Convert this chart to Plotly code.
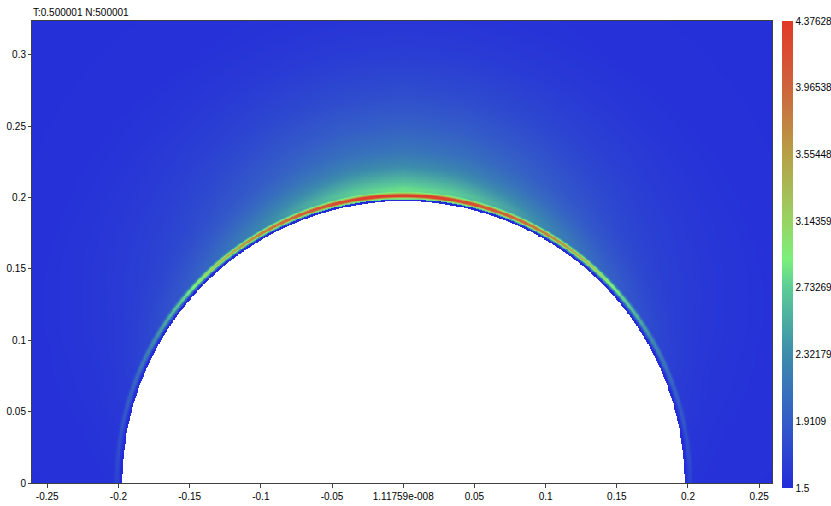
import numpy as np
import plotly.graph_objects as go

# ---------------- data ----------------
title_text = "T:0.500001 N:500001"

# broad halo above the cylinder: excess over background (r in axis units)
r_halo = [0.1986, 0.2060, 0.2100, 0.2160, 0.2220, 0.2320, 0.2500, 0.2700,
          0.3000, 0.3300, 0.4000]
v_halo = [1.28, 1.30, 1.15, 0.95, 0.78, 0.60, 0.42, 0.27, 0.12, 0.04, 0.0]

# narrow peak just outside the wall: excess over halo
r_ring = [0.1990, 0.2000, 0.2005, 0.2017, 0.2024, 0.2032, 0.2040]
v_ring = [0.0, 1.00, 1.55, 1.55, 0.80, 0.25, 0.0]

# angular attenuation (angle from +x axis, symmetric about 90 deg)
theta_deg = [0, 10, 20, 30, 40, 50, 60, 70, 80, 90]
amp_ring = [0.09, 0.15, 0.22, 0.38, 0.58, 0.82, 0.98, 1.00, 1.00, 1.00]
amp_halo = [0.02, 0.04, 0.08, 0.15, 0.25, 0.38, 0.55, 0.75, 0.92, 1.00]

bg_value = 1.53
wall_radius = 0.1972
wall_band = 0.1986
wall_value = 1.50

cb_ticks = [1.5, 1.9109, 2.32179, 2.73269, 3.14359, 3.55448, 3.96538, 4.37628]
cb_ticktext = ["1.5", "1.9109", "2.32179", "2.73269", "3.14359", "3.55448",
               "3.96538", "4.37628"]
x_ticks = [-0.25, -0.2, -0.15, -0.1, -0.05, 0.0, 0.05, 0.1, 0.15, 0.2, 0.25]
x_ticktext = ["-0.25", "-0.2", "-0.15", "-0.1", "-0.05", "1.11759e-008",
              "0.05", "0.1", "0.15", "0.2", "0.25"]
y_ticks = [0, 0.05, 0.1, 0.15, 0.2, 0.25, 0.3]
y_ticktext = ["0", "0.05", "0.1", "0.15", "0.2", "0.25", "0.3"]

x_range = [-0.2607, 0.2590]
y_range = [0.0, 0.3236]

# ---------------- build the field ----------------
step = 0.0006
xs = np.arange(x_range[0], x_range[1] + step, step)
ys = np.arange(y_range[0], y_range[1] + step, step)
X, Y = np.meshgrid(xs, ys)
R = np.hypot(X, Y)
TH = np.degrees(np.arctan2(Y, X))
TH = np.where(TH > 90, 180 - TH, TH)
Ar = np.interp(TH, theta_deg, amp_ring)
Ah = np.interp(TH, theta_deg, amp_halo)
H = np.interp(R, r_halo, v_halo)
G = np.interp(R, r_ring, v_ring)
Z = bg_value + Ar * G + Ah * H
Z = np.where(R < wall_band, wall_value, Z)
Z = np.where(R < wall_radius, np.nan, Z).astype(np.float32)

colorscale = [
    [0.000, "rgb(36,44,218)"],
    [0.143, "rgb(52,92,200)"],
    [0.286, "rgb(60,140,172)"],
    [0.429, "rgb(92,204,150)"],
    [0.490, "rgb(122,240,122)"],
    [0.571, "rgb(152,212,100)"],
    [0.714, "rgb(182,160,70)"],
    [0.857, "rgb(206,100,60)"],
    [1.000, "rgb(226,56,40)"],
]

font_family = "Liberation Sans, Arial, sans-serif"

fig = go.Figure(go.Heatmap(
    x=xs, y=ys, z=Z,
    zmin=cb_ticks[0], zmax=cb_ticks[-1],
    colorscale=colorscale,
    zsmooth=False,
    hoverongaps=False,
    colorbar=dict(
        thickness=11, thicknessmode="pixels",
        len=467, lenmode="pixels",
        x=1.0131, xanchor="left", xpad=0,
        y=1.0, yanchor="top", ypad=0,
        outlinewidth=0,
        tickvals=cb_ticks, ticktext=cb_ticktext,
        ticks="", ticklen=0,
        tickfont=dict(family=font_family, size=10, color="black"),
    ),
))

fig.update_layout(
    width=831, height=506,
    margin=dict(l=32, r=59, t=21, b=23, pad=0, autoexpand=False),
    paper_bgcolor="white",
    plot_bgcolor="white",
    font=dict(family=font_family, size=10, color="black"),
    showlegend=False,
    annotations=[dict(
        text=title_text, xref="paper", yref="paper", x=0.0, y=1.0,
        xanchor="left", yanchor="bottom", showarrow=False, xshift=-1,
        yshift=1, font=dict(family=font_family, size=10, color="black"),
    )],
)
fig.update_xaxes(
    range=x_range, tickvals=x_ticks, ticktext=x_ticktext,
    showgrid=False, zeroline=False, showline=True, mirror=True,
    linecolor="#404040", linewidth=1, automargin=False,
    ticks="outside", ticklen=4, tickcolor="#404040",
    tickfont=dict(family=font_family, size=10, color="black"),
)
fig.update_yaxes(
    range=y_range, tickvals=y_ticks, ticktext=y_ticktext,
    showgrid=False, zeroline=False, showline=True, mirror=True,
    linecolor="#404040", linewidth=1, automargin=False,
    ticks="outside", ticklen=3, tickcolor="#404040",
    tickfont=dict(family=font_family, size=10, color="black"),
)

fig.write_html(
    "out.html",
    config={"displayModeBar": False},
    post_script="document.body.style.margin='0';document.body.style.padding='0';",
)
